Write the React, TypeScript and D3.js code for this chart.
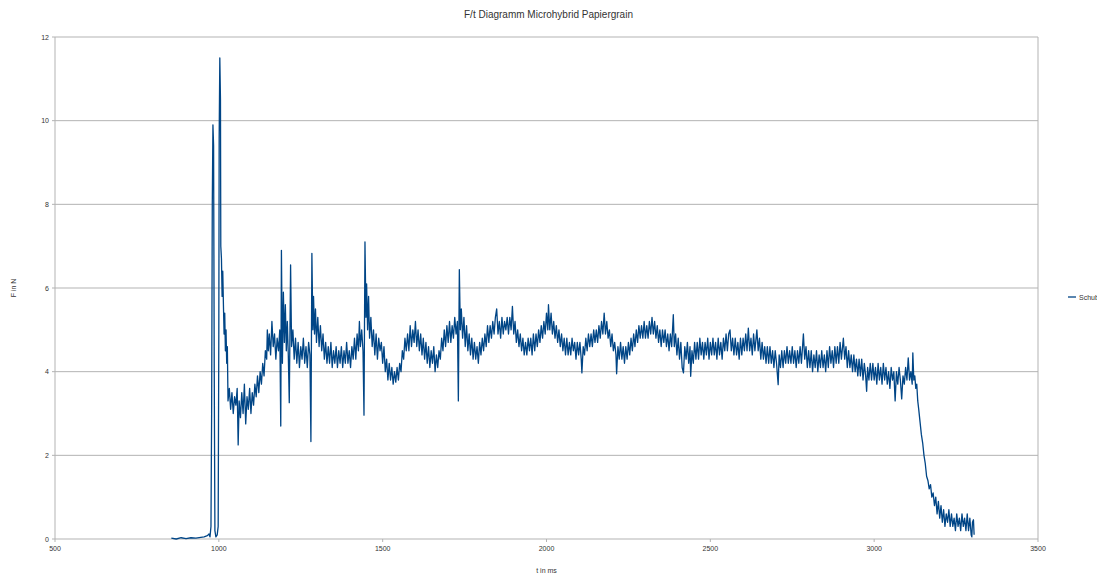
import React from "react";
import * as d3 from "d3";

const width = 1097;
const height = 576;
const margin = { left: 55, right: 59, top: 37, bottom: 37 };

const chartTitle = "F/t Diagramm Microhybrid Papiergrain";
const xTitle = "t in ms";
const yTitle = "F in N";
const seriesName = "Schub";

const xTicks = [500, 1000, 1500, 2000, 2500, 3000, 3500];
const yTicks = [0, 2, 4, 6, 8, 10, 12];

// [t in ms, F in N]
const ignition = [
  [855, 0.02], [870, 0], [885, 0.03], [900, 0.01], [915, 0.03], [930, 0.02], [945, 0.04], [955, 0.05],
  [965, 0.08], [970, 0.12], [973, 0.05], [976, 0.3], [978, 3.0], [980, 8.0], [982, 9.9], [984, 9.4],
  [986, 4.0], [988, 0.2], [991, 0.05], [995, 0.1], [998, 0.3], [1000, 5.0], [1001, 9.6], [1003, 11.5],
  [1005, 10.5], [1006, 7.0], [1008, 6.7], [1010, 5.8], [1012, 6.4], [1014, 5.6], [1016, 4.9], [1018, 5.4],
  [1020, 4.5], [1022, 5.0], [1024, 4.2], [1026, 4.6],
];

const startup = [
  [1028, 3.3], [1032, 3.6], [1036, 3.1], [1040, 3.5], [1044, 3.0], [1048, 3.4], [1052, 3.2], [1056, 3.6],
  [1059, 2.25], [1062, 3.3], [1066, 2.9], [1070, 3.5], [1074, 3.0], [1078, 3.7], [1082, 2.75], [1086, 3.4],
  [1090, 3.1], [1094, 3.6], [1098, 3.0], [1102, 3.5], [1106, 3.2], [1110, 3.7], [1114, 3.4], [1118, 3.9],
  [1122, 3.5], [1126, 4.0], [1130, 3.7], [1134, 4.2], [1138, 3.9], [1142, 4.5], [1146, 4.3], [1148, 5.0],
  [1151, 4.5], [1154, 4.9], [1158, 4.4], [1162, 5.2], [1166, 4.6], [1170, 4.9], [1174, 4.3], [1178, 4.8],
  [1182, 4.5], [1186, 5.0], [1189, 2.7], [1191, 6.9], [1194, 4.2], [1197, 5.9], [1200, 4.7], [1203, 5.6],
  [1206, 4.5], [1209, 5.2], [1212, 4.4], [1215, 3.26], [1219, 6.55], [1222, 4.6], [1226, 5.0], [1230, 4.3],
  [1234, 4.8], [1238, 4.2], [1242, 4.7], [1246, 4.1], [1250, 4.6], [1254, 4.3], [1258, 4.8], [1262, 4.2],
  [1266, 4.6], [1270, 4.1], [1274, 4.7], [1278, 4.4], [1281, 2.33], [1284, 6.83], [1287, 5.0], [1289, 5.8],
  [1292, 4.9], [1295, 5.5], [1298, 4.7], [1302, 5.3], [1306, 4.6], [1310, 5.1], [1314, 4.5], [1318, 4.9],
  [1322, 4.3], [1326, 4.7], [1330, 4.2], [1334, 4.6], [1338, 4.2], [1342, 4.7], [1346, 4.1], [1350, 4.5],
  [1354, 4.2], [1358, 4.6], [1362, 4.1], [1366, 4.5], [1370, 4.2], [1374, 4.6], [1378, 4.1], [1382, 4.5],
  [1386, 4.2], [1390, 4.7], [1394, 4.2], [1398, 4.5], [1402, 4.1], [1406, 4.6], [1410, 4.3], [1414, 4.8],
  [1418, 4.3], [1422, 4.9], [1426, 4.5], [1429, 5.2], [1432, 4.6], [1436, 5.0], [1440, 4.5], [1443, 2.96],
  [1446, 7.1], [1449, 5.3], [1451, 6.1], [1454, 5.0], [1457, 5.8], [1460, 4.8], [1464, 5.3], [1468, 4.6],
  [1472, 5.0], [1476, 4.4], [1480, 4.9], [1484, 4.3], [1488, 4.8], [1492, 4.5], [1496, 4.7], [1500, 4.2],
];

const mainBurn = [
  [1504, 4.6], [1508, 4.0], [1512, 4.3], [1516, 3.8], [1520, 4.2], [1524, 3.8], [1528, 4.1], [1532, 3.7],
  [1536, 4.0], [1540, 3.75], [1544, 4.1], [1548, 3.8], [1552, 4.2], [1556, 4.0], [1560, 4.5], [1564, 4.3],
  [1568, 4.8], [1572, 4.5], [1576, 4.9], [1580, 4.5], [1584, 5.1], [1588, 4.6], [1592, 5.0], [1596, 4.7],
  [1600, 5.2], [1604, 4.6], [1608, 5.0], [1612, 4.5], [1616, 4.9], [1620, 4.4], [1624, 4.8], [1628, 4.3],
  [1632, 4.7], [1636, 4.2], [1640, 4.6], [1644, 4.1], [1648, 4.5], [1652, 4.2], [1656, 4.6], [1660, 4.0],
  [1664, 4.4], [1668, 4.1], [1672, 4.5], [1676, 4.3], [1680, 4.8], [1684, 4.5], [1688, 5.0], [1692, 4.6],
  [1696, 5.1], [1700, 4.7], [1704, 5.2], [1708, 4.7], [1712, 5.1], [1716, 4.8], [1720, 5.3], [1724, 4.9],
  [1728, 5.2], [1731, 3.3], [1734, 6.44], [1737, 5.0], [1740, 5.5], [1744, 4.8], [1748, 5.3], [1752, 4.6],
  [1756, 5.1], [1760, 4.5], [1764, 4.9], [1768, 4.4], [1772, 4.8], [1776, 4.3], [1780, 4.7], [1784, 4.3],
  [1788, 4.6], [1792, 4.2], [1796, 4.7], [1800, 4.4], [1804, 4.8], [1808, 4.5], [1812, 4.9], [1816, 4.6],
  [1820, 5.1], [1824, 4.7], [1828, 5.1], [1832, 4.8], [1836, 5.2], [1840, 4.9], [1844, 5.3], [1848, 5.5],
  [1852, 4.9], [1856, 5.2], [1860, 4.8], [1864, 5.3], [1868, 4.9], [1872, 5.2], [1876, 5.0], [1880, 5.3],
  [1884, 4.9], [1888, 5.3], [1892, 5.0], [1896, 5.56], [1900, 4.9], [1904, 5.2], [1908, 4.7], [1912, 5.0],
  [1916, 4.6], [1920, 4.9], [1924, 4.5], [1928, 4.8], [1932, 4.4], [1936, 4.7], [1940, 4.4], [1944, 4.8],
  [1948, 4.5], [1952, 4.8], [1956, 4.4], [1960, 4.9], [1964, 4.5], [1968, 4.9], [1972, 4.6], [1976, 5.0],
  [1980, 4.7], [1984, 5.1], [1988, 4.8], [1992, 5.2], [1996, 4.9], [2000, 5.4], [2004, 5.0], [2006, 5.6],
  [2010, 5.0], [2014, 5.4], [2018, 4.9], [2022, 5.2], [2026, 4.8], [2030, 5.1], [2034, 4.7], [2038, 5.0],
  [2042, 4.6], [2046, 4.9], [2050, 4.5], [2054, 4.8], [2058, 4.4], [2062, 4.8], [2066, 4.4], [2070, 4.7],
  [2074, 4.4], [2078, 4.8], [2082, 4.5], [2086, 4.7], [2090, 4.3], [2094, 4.7], [2098, 4.4], [2102, 4.7],
  [2106, 4.3], [2108, 3.97], [2112, 4.6], [2116, 4.4], [2120, 4.8], [2124, 4.5], [2128, 4.9], [2132, 4.6],
  [2136, 4.9], [2140, 4.6], [2144, 5.0], [2148, 4.7], [2152, 5.0], [2156, 4.7], [2160, 5.1], [2164, 4.8],
  [2168, 5.2], [2172, 4.9], [2176, 5.4], [2180, 4.9], [2184, 5.2], [2188, 4.8], [2192, 5.0], [2196, 4.6],
  [2200, 4.9], [2204, 4.5], [2208, 4.7], [2212, 4.4], [2214, 3.95], [2218, 4.6], [2222, 4.3], [2226, 4.7],
  [2230, 4.3], [2234, 4.6], [2238, 4.2], [2242, 4.6], [2246, 4.3], [2250, 4.7], [2254, 4.4], [2258, 4.8],
  [2262, 4.5], [2266, 4.9], [2270, 4.6], [2274, 5.0], [2278, 4.7], [2282, 5.1], [2286, 4.8], [2290, 5.1],
  [2294, 4.8], [2298, 5.2], [2302, 4.8], [2306, 5.1], [2310, 4.8], [2314, 5.2], [2318, 4.9], [2322, 5.3],
  [2326, 4.9], [2330, 5.2], [2334, 4.8], [2338, 5.1], [2342, 4.7], [2346, 5.0], [2350, 4.6], [2354, 5.0],
  [2358, 4.7], [2362, 5.0], [2366, 4.6], [2370, 4.9], [2374, 4.5], [2378, 4.9], [2382, 4.6], [2387, 5.36],
  [2390, 4.6], [2394, 4.9], [2398, 4.4], [2402, 4.8], [2406, 4.3], [2410, 4.7], [2414, 4.1], [2418, 3.97],
  [2422, 4.6], [2426, 4.3], [2430, 4.7], [2434, 4.2], [2438, 4.6], [2440, 3.89], [2444, 4.5], [2448, 4.2],
  [2452, 4.7], [2456, 4.3], [2460, 4.7], [2464, 4.3], [2468, 4.8], [2472, 4.4], [2476, 4.7], [2480, 4.3],
  [2484, 4.7], [2488, 4.4], [2492, 4.8], [2496, 4.3], [2500, 4.7], [2504, 4.4], [2508, 4.8], [2512, 4.4],
  [2516, 4.7], [2520, 4.3], [2524, 4.8], [2528, 4.4], [2532, 4.7], [2536, 4.3], [2540, 4.8], [2544, 4.5],
  [2548, 4.9], [2552, 4.5], [2556, 4.9], [2560, 5.0], [2564, 4.5], [2568, 4.8], [2572, 4.4], [2576, 4.8],
  [2580, 4.4], [2584, 4.7], [2588, 4.3], [2592, 4.8], [2596, 4.4], [2600, 4.8], [2604, 4.5], [2608, 4.9],
  [2612, 4.5], [2616, 5.04], [2620, 4.5], [2624, 4.8], [2628, 4.4], [2632, 4.9], [2636, 4.5], [2642, 5.0],
  [2646, 4.5], [2650, 4.8], [2654, 4.3], [2658, 4.7], [2662, 4.3], [2666, 4.6], [2670, 4.2], [2674, 4.6],
  [2678, 4.2], [2682, 4.6], [2686, 4.2], [2690, 4.5], [2694, 4.1], [2698, 4.5], [2702, 4.2], [2707, 3.69],
  [2710, 4.4], [2714, 4.1], [2718, 4.5], [2722, 4.1], [2726, 4.5], [2730, 4.2], [2734, 4.6], [2738, 4.2],
  [2742, 4.5], [2746, 4.2], [2750, 4.6], [2754, 4.2], [2758, 4.5], [2762, 4.1], [2766, 4.5], [2770, 4.2],
  [2774, 4.6], [2778, 4.2], [2784, 4.9], [2788, 4.3], [2792, 4.6], [2796, 4.1], [2800, 4.5], [2804, 4.1],
  [2808, 4.5], [2812, 4.0], [2816, 4.4], [2820, 4.1], [2824, 4.5], [2828, 4.0], [2832, 4.4], [2836, 4.1],
  [2840, 4.5], [2844, 4.1], [2848, 4.4], [2852, 4.0], [2856, 4.5], [2860, 4.1], [2864, 4.6], [2868, 4.2],
  [2872, 4.5], [2876, 4.1], [2880, 4.6], [2884, 4.2], [2888, 4.6], [2892, 4.2], [2896, 4.7], [2900, 4.3],
  [2906, 4.8], [2910, 4.3], [2914, 4.6], [2918, 4.1], [2922, 4.5], [2926, 4.1], [2930, 4.4], [2934, 4.0],
  [2938, 4.4], [2942, 4.0], [2946, 4.3], [2950, 3.9], [2954, 4.3], [2958, 3.9], [2962, 4.3], [2966, 3.8],
  [2970, 4.2], [2974, 3.9], [2977, 3.53], [2980, 4.1], [2984, 3.8], [2988, 4.2], [2992, 3.8], [2996, 4.2],
  [3000, 3.8], [3004, 4.1], [3008, 3.7], [3012, 4.2], [3016, 3.8], [3020, 4.1], [3024, 3.7], [3028, 4.2],
  [3032, 3.8], [3036, 4.1], [3040, 3.7], [3044, 4.0], [3048, 3.6], [3052, 4.1], [3056, 3.8], [3060, 4.0],
  [3064, 3.3], [3068, 4.0], [3072, 3.7], [3076, 4.1], [3080, 3.8], [3084, 3.35], [3088, 3.9], [3092, 3.7],
  [3096, 4.1], [3100, 3.8], [3104, 4.33], [3108, 3.8], [3112, 4.0], [3116, 3.7], [3118, 4.45], [3121, 3.8],
  [3124, 3.9], [3127, 3.6], [3130, 3.7],
];

const tailOff = [
  [3133, 3.3], [3136, 3.1], [3140, 2.8], [3144, 2.5], [3148, 2.3], [3152, 2.0], [3156, 1.8], [3160, 1.5],
  [3164, 1.4], [3168, 1.2], [3172, 1.3], [3176, 1.0], [3180, 1.1], [3184, 0.8], [3188, 1.0], [3192, 0.6],
  [3196, 0.9], [3200, 0.5], [3204, 0.8], [3208, 0.4], [3212, 0.7], [3216, 0.3], [3220, 0.6], [3224, 0.4],
  [3228, 0.7], [3232, 0.3], [3236, 0.6], [3240, 0.3], [3244, 0.5], [3248, 0.2], [3252, 0.6], [3256, 0.3],
  [3260, 0.5], [3264, 0.2], [3268, 0.6], [3272, 0.3], [3276, 0.5], [3280, 0.2], [3284, 0.6], [3288, 0.2],
  [3292, 0.5], [3296, 0.1], [3298, 0.05], [3300, 0.4], [3303, 0.46], [3305, 0.1],
];

const schub = [...ignition, ...startup, ...mainBurn, ...tailOff];

const lineColor = "#004586";
const gridColor = "#b3b3b3";
const textColor = "#333";
const font = "'Liberation Sans', Arial, sans-serif";

export default function App() {
  const x = d3.scaleLinear().domain([500, 3500]).range([margin.left, width - margin.right]);
  const y = d3.scaleLinear().domain([0, 12]).range([height - margin.bottom, margin.top]);
  const line = d3
    .line<number[]>()
    .x(d => x(d[0]))
    .y(d => y(d[1]));

  const x0 = x(500);
  const x1 = x(3500);
  const yBottom = y(0);
  const yTop = y(12);

  return (
    <svg
      width={width}
      height={height}
      style={{ position: "absolute", left: 0, top: 0, background: "#fff" }}
      fontFamily={font}
    >
      <text x={width / 2} y={18} textAnchor="middle" fontSize={10} fill={textColor}>
        {chartTitle}
      </text>

      {yTicks.map(t => (
        <g key={"y" + t}>
          <line x1={x0} x2={x1} y1={y(t)} y2={y(t)} stroke={gridColor} strokeWidth={1} />
          <line x1={x0 - 3} x2={x0} y1={y(t)} y2={y(t)} stroke={gridColor} />
          <text x={x0 - 6} y={y(t) + 2.5} textAnchor="end" fontSize={7} fill={textColor}>
            {t}
          </text>
        </g>
      ))}

      {xTicks.map(t => (
        <g key={"x" + t}>
          <line x1={x(t)} x2={x(t)} y1={yBottom} y2={yBottom + 3} stroke={gridColor} />
          <text x={x(t)} y={yBottom + 12} textAnchor="middle" fontSize={7} fill={textColor}>
            {t}
          </text>
        </g>
      ))}

      <line x1={x0} x2={x0} y1={yTop} y2={yBottom} stroke={gridColor} />
      <line x1={x1} x2={x1} y1={yTop} y2={yBottom} stroke={gridColor} />

      <path d={line(schub as number[][]) || ""} fill="none" stroke={lineColor} strokeWidth={1.3} strokeLinejoin="round" />

      <text x={(x0 + x1) / 2} y={573} textAnchor="middle" fontSize={7} fill={textColor}>
        {xTitle}
      </text>
      <text
        transform={`translate(16,${(yTop + yBottom) / 2}) rotate(-90)`}
        textAnchor="middle"
        fontSize={7}
        fill={textColor}
      >
        {yTitle}
      </text>

      <line x1={1068} x2={1076} y1={297} y2={297} stroke={lineColor} strokeWidth={1.3} />
      <text x={1079} y={299.5} fontSize={7} fill={textColor}>
        {seriesName}
      </text>
    </svg>
  );
}
